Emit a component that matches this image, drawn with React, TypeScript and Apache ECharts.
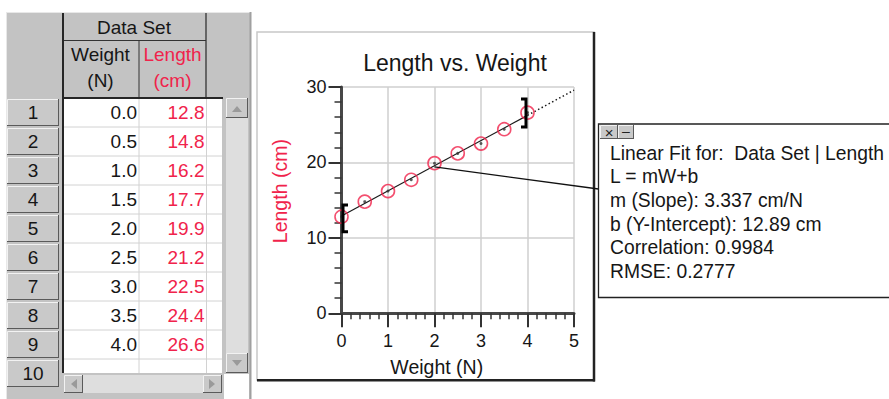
import React, { useEffect, useRef } from "react";
import * as echarts from "echarts";

// ---------- data ----------
const weights = [0.0, 0.5, 1.0, 1.5, 2.0, 2.5, 3.0, 3.5, 4.0];
const lengths = [12.8, 14.8, 16.2, 17.7, 19.9, 21.2, 22.5, 24.4, 26.6];
const rowNumbers = [1, 2, 3, 4, 5, 6, 7, 8, 9, 10];
const fitSolidX = [0, 4];
const fitSolidY = [12.89, 26.24];
const fitDottedX = [4, 5];
const fitDottedY = [26.24, 29.58];
const bracketX = [0, 4];
const bracketLow = [10.8, 24.7];
const bracketHigh = [14.35, 28.4];
const bracketDir = [1, -1];
const connectorFrom = [2, 19.4];
const fitText = [
  "Linear Fit for:  Data Set | Length",
  "L = mW+b",
  "m (Slope): 3.337 cm/N",
  "b (Y-Intercept): 12.89 cm",
  "Correlation: 0.9984",
  "RMSE: 0.2777",
];

const FONT = "'Liberation Sans', Arial, sans-serif";
const RED = "#f0234b";
const INK = "#161616";
const GRAY = "#c3c3c3";

function buildGraphics() {
  const g: any[] = [];
  const rect = (x: number, y: number, w: number, h: number, fill: string, z = -20, stroke?: string, lw = 1) =>
    g.push({ type: "rect", z, silent: true, shape: { x, y, width: w, height: h }, style: { fill, stroke: stroke || null, lineWidth: lw } });
  const line = (x1: number, y1: number, x2: number, y2: number, stroke: string, lw = 1, z = -18) =>
    g.push({ type: "line", z, silent: true, shape: { x1, y1, x2, y2 }, style: { stroke, lineWidth: lw } });
  const text = (x: number, y: number, s: string, fill = INK, align = "center", size = 19, z = -15) =>
    g.push({ type: "text", z, silent: true, x, y, style: { text: s, fill, fontSize: size, fontFamily: FONT, textAlign: align, textVerticalAlign: "middle" } });
  const button = (x: number, y: number, w: number, h: number, z = -17) => {
    rect(x, y, w, h, "#c9c9c9", z);
    line(x + 0.5, y + 0.5, x + w - 0.5, y + 0.5, "#f2f2f2", 1, z + 0.5);
    line(x + 0.5, y + 0.5, x + 0.5, y + h - 0.5, "#f2f2f2", 1, z + 0.5);
    line(x, y + h - 0.5, x + w, y + h - 0.5, "#5a5a5a", 1, z + 0.5);
    line(x + w - 0.5, y, x + w - 0.5, y + h, "#5a5a5a", 1, z + 0.5);
  };
  const tri = (pts: number[][], z = -14) =>
    g.push({ type: "polygon", z, silent: true, shape: { points: pts }, style: { fill: "#9a9a9a" } });

  // ---- table window ----
  rect(6, 12, 244, 387, GRAY, -22);
  line(6, 12.5, 250, 12.5, "#e8e8e8", 1);
  line(6.5, 12, 6.5, 399, "#e8e8e8", 1);
  line(250.5, 12, 250.5, 399, "#a0a0a0", 2);
  // header lines
  line(62, 40.5, 206, 40.5, "#333", 1.2);
  line(139, 40.5, 139, 97, "#333", 1);
  line(206, 13, 206, 97, "#333", 1.3);
  text(134, 27, "Data Set");
  text(100.5, 54, "Weight");
  text(100.5, 80, "(N)");
  text(172.5, 54, "Length", RED);
  text(172.5, 80, "(cm)", RED);
  // data area
  rect(64, 98, 158, 275, "#ffffff", -21);
  for (let k = 1; k < rowNumbers.length; k++) line(64, 98 + k * 29, 222, 98 + k * 29, "#d2d2d2", 1);
  line(139, 98, 139, 373, "#d2d2d2", 1);
  line(206.5, 98, 206.5, 373, "#d2d2d2", 1);
  line(63, 13, 63, 373, "#262626", 2);
  line(62, 98, 223, 98, "#262626", 2);
  // row numbers
  rowNumbers.forEach((n, i) => {
    const top = 98 + i * 29;
    button(7, top + 1, 52, 27);
    text(33, top + 14.5, String(n));
  });
  // values
  weights.forEach((w, i) => {
    const top = 98 + i * 29;
    text(137, top + 14.5, w.toFixed(1), INK, "right");
    text(204.5, top + 14.5, lengths[i].toFixed(1), RED, "right");
  });
  // vertical scrollbar
  rect(226, 118, 22, 235, "#dedede", -20);
  button(226, 98, 22, 20);
  tri([[232, 112], [242, 112], [237, 106]]);
  button(226, 353, 22, 20);
  tri([[232, 360], [242, 360], [237, 366]]);
  // horizontal scrollbar
  rect(64, 375, 158, 18, "#dedede", -20);
  button(64, 375, 19, 18);
  tri([[77, 379], [77, 389], [71, 384]]);
  button(203, 375, 19, 18);
  tri([[209, 379], [209, 389], [215, 384]]);
  rect(224, 374, 25, 25, "#ffffff", -20);

  // ---- chart panel ----
  rect(257, 32, 337, 348, "#ffffff", -30, "#c8c8c8", 1.5);
  line(594, 32, 594, 381.5, "#222", 2.5, -29);
  line(257, 380.3, 595, 380.3, "#222", 2.5, -29);

  // ---- fit annotation box ----
  rect(598.5, 124, 310, 173.5, "#ffffff", 100, "#222", 1.3);
  button(600, 125, 18, 14, 101);
  button(618, 125, 16, 14, 101);
  text(609, 132, "×", "#222", "center", 15, 103);
  text(626, 131, "–", "#222", "center", 14, 103);
  fitText.forEach((s, i) => {
    g.push({ type: "text", z: 103, silent: true, x: 610, y: 153 + i * 23.7, style: { text: s, fill: INK, fontSize: 19.3, fontFamily: FONT, textAlign: "left", textVerticalAlign: "middle" } });
  });
  return g;
}

export default function App() {
  const ref = useRef<HTMLDivElement>(null);
  useEffect(() => {
    if (!ref.current) return;
    const chart = echarts.init(ref.current, undefined, { renderer: "svg" });
    const points = weights.map((w, i) => [w, lengths[i]]);
    const brackets = bracketX.map((x, i) => [x, bracketLow[i], bracketHigh[i], bracketDir[i]]);
    const option: any = {
      animation: false,
      backgroundColor: "#ffffff",
      textStyle: { fontFamily: FONT },
      title: {
        text: "Length vs. Weight",
        left: 450,
        top: 46,
        textAlign: "center",
        textStyle: { fontSize: 23, fontWeight: "normal", color: INK, fontFamily: FONT },
      },
      grid: { left: 341.5, right: 315, top: 87, bottom: 85.7, containLabel: false },
      xAxis: {
        type: "value",
        min: 0,
        max: 5,
        interval: 1,
        name: "Weight (N)",
        nameLocation: "middle",
        nameGap: 44,
        nameTextStyle: { fontSize: 19.5, color: INK, fontFamily: FONT, padding: [0, 42, 0, 0] },
        axisLine: { show: true, lineStyle: { color: "#474747", width: 3 } },
        axisTick: { show: true, length: 14, lineStyle: { color: "#333", width: 2 } },
        minorTick: { show: true, splitNumber: 5, length: 6, lineStyle: { color: "#333", width: 1.5 } },
        splitLine: { show: true, lineStyle: { color: "#cfcfcf", width: 1.5 } },
        axisLabel: { fontSize: 18, color: INK, margin: 19, fontFamily: FONT },
      },
      yAxis: {
        type: "value",
        min: 0,
        max: 30,
        interval: 10,
        name: "Length (cm)",
        nameLocation: "middle",
        nameRotate: 90,
        nameGap: 52,
        nameTextStyle: { fontSize: 19.5, color: RED, fontFamily: FONT, padding: [0, 0, 0, 18] },
        axisLine: { show: true, lineStyle: { color: "#474747", width: 3 } },
        axisTick: { show: true, length: 13, lineStyle: { color: "#333", width: 2 } },
        minorTick: { show: true, splitNumber: 5, length: 7, lineStyle: { color: "#333", width: 1.5 } },
        splitLine: { show: true, lineStyle: { color: "#cfcfcf", width: 1.5 } },
        axisLabel: { fontSize: 18, color: INK, margin: 15, fontFamily: FONT },
      },
      graphic: buildGraphics(),
      series: [
        {
          name: "Connector",
          type: "custom",
          silent: true,
          z: 8,
          data: [connectorFrom],
          renderItem: (params: any, api: any) => {
            const p = api.coord([api.value(0), api.value(1)]);
            return {
              type: "polyline",
              shape: { points: [p, [598.5, 189]] },
              style: { stroke: "#111", lineWidth: 1.3, fill: null },
            };
          },
        },
        {
          name: "Fit",
          type: "line",
          silent: true,
          symbol: "none",
          z: 4,
          data: fitSolidX.map((x, i) => [x, fitSolidY[i]]),
          lineStyle: { color: "#1a1a1a", width: 1.2 },
        },
        {
          name: "Fit extension",
          type: "line",
          silent: true,
          symbol: "none",
          z: 4,
          data: fitDottedX.map((x, i) => [x, fitDottedY[i]]),
          lineStyle: { color: "#1a1a1a", width: 1.5, type: [1.5, 2.5] },
        },
        {
          name: "Length",
          type: "scatter",
          silent: true,
          z: 5,
          symbol: "circle",
          symbolSize: 13,
          data: points,
          itemStyle: { color: "rgba(0,0,0,0)", borderColor: RED, borderWidth: 1.6 },
        },
        {
          name: "Centers",
          type: "scatter",
          silent: true,
          z: 6,
          symbol: "circle",
          symbolSize: 3,
          data: points,
          itemStyle: { color: "#333" },
        },
        {
          name: "Brackets",
          type: "custom",
          silent: true,
          z: 7,
          data: brackets,
          renderItem: (params: any, api: any) => {
            const x = api.value(0);
            const dir = api.value(3);
            const top = api.coord([x, api.value(2)]);
            const bot = api.coord([x, api.value(1)]);
            const vx = top[0] + dir * 1.5;
            const s = 5 * dir;
            return {
              type: "polyline",
              shape: { points: [[vx + s, top[1]], [vx, top[1]], [vx, bot[1]], [vx + s, bot[1]]] },
              style: { stroke: "#000", lineWidth: 3, fill: null },
            };
          },
        },
      ],
    };
    chart.setOption(option);
    return () => chart.dispose();
  }, []);
  return (
    <div
      ref={ref}
      style={{ position: "fixed", left: 0, top: 0, width: 889, height: 399, background: "#fff" }}
    />
  );
}
